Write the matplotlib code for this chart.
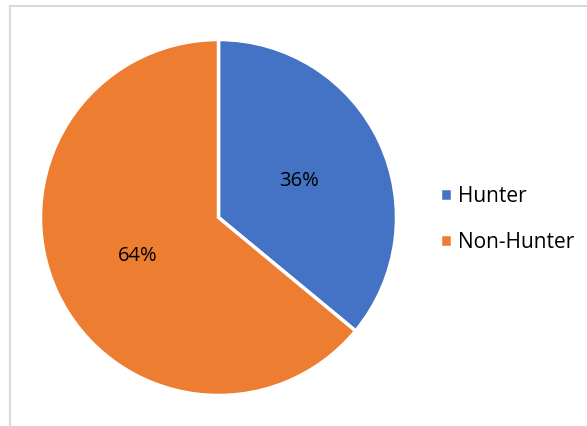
import matplotlib.pyplot as plt
from matplotlib.patches import Rectangle

labels = ['Hunter', 'Non-Hunter']
shares = [36, 64]
colors = ['#4472c4', '#ed7d31']

W, H = 587, 427
fig = plt.figure(figsize=(W / 100, H / 100), dpi=100)
plt.rcParams['font.family'] = ['Open Sans', 'DejaVu Sans']

# chart frame (cropped on right / bottom)
fig.patches.append(Rectangle((10 / W, -0.1), 1.2, (H - 7) / H + 0.1,
                             transform=fig.transFigure, fill=False,
                             edgecolor='#d9d9d9', linewidth=1.5))

cx, cy, r = 218.5, 218.5, 178
ax = fig.add_axes([(cx - r) / W, (H - cy - r) / H, 2 * r / W, 2 * r / H])
wedges, texts, autotexts = ax.pie(
    shares, colors=colors, startangle=90, counterclock=False,
    autopct='%1.0f%%', pctdistance=0.5, radius=1,
    wedgeprops=dict(edgecolor='white', linewidth=2.5),
    textprops=dict(fontsize=14.5, color='#000000'))
ax.set_xlim(-1, 1)
ax.set_ylim(-1, 1)
ax.set_aspect('equal')

fig.legend(wedges, labels, loc='center left', bbox_to_anchor=(421 / W, (H - 220) / H),
           frameon=False, fontsize=15, handlelength=0.6, handleheight=0.6,
           handletextpad=0.3, labelspacing=1.2)

fig.savefig('out.png', dpi=100)
